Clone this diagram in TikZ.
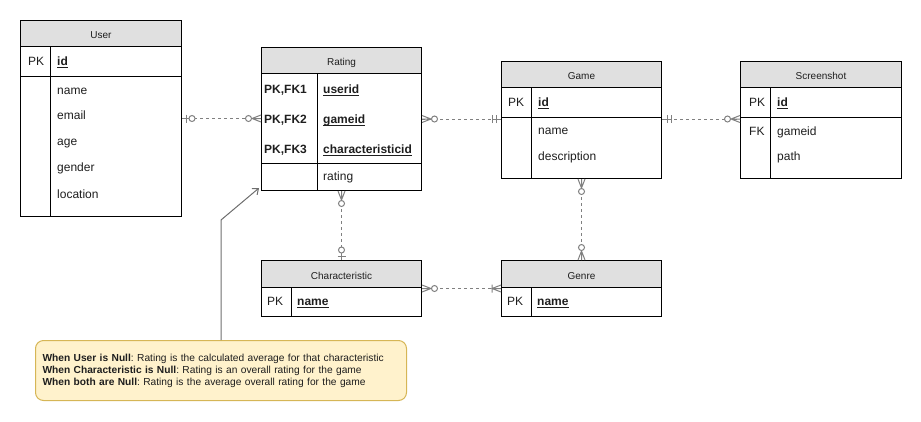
\documentclass[tikz,border=0pt]{standalone}
\usepackage{fontspec}
\setmainfont{Liberation Sans}
\usetikzlibrary{calc,arrows.meta}
\definecolor{hdr}{RGB}{224,224,224}
\definecolor{txt}{RGB}{30,30,30}
\definecolor{conn}{RGB}{128,128,128}
\definecolor{arrowgray}{RGB}{110,110,110}
\definecolor{notefill}{RGB}{255,242,204}
\definecolor{noteline}{RGB}{214,182,86}
\newcommand{\uln}[1]{\setbox0\hbox{#1}\rlap{\rule[-2pt]{\wd0}{0.8pt}}\box0}
\frenchspacing
\tikzset{
  tbl/.style={draw=black, line width=1pt, inner sep=0pt, anchor=north west},
  hdrbox/.style={draw=black, fill=hdr, line width=1pt, inner sep=0pt, anchor=north west,
    font=\fontsize{10}{12}\selectfont, text=txt, text height=10pt, text depth=0pt},
  cell/.style={anchor=west, inner sep=0pt, text height=8.6pt, text depth=0pt,
    font=\fontsize{12}{14}\selectfont, text=txt},
  kcell/.style={cell, font=\fontsize{12}{14}\selectfont\bfseries},
  sep/.style={draw=black, line width=1pt},
  conn/.style={draw=conn, line width=1pt, dash pattern=on 3pt off 3pt},
  mk/.style={draw=conn, line width=1pt, solid},
  zeromany/.pic={\draw[mk] (0,-3.5) -- (9,0) -- (0,3.5) (0,0) -- (9,0);
    \draw[mk, fill=white] (12.5,0) circle (3pt);},
  zeroone/.pic={\draw[mk] (4,-4) -- (4,4) (0,0) -- (7,0);
    \draw[mk, fill=white] (10,0) circle (3pt);},
  mandone/.pic={\draw[mk] (5,-4) -- (5,4) (9,-4) -- (9,4) (0,0) -- (9,0);},
  onemany/.pic={\draw[mk] (0,-3.5) -- (9,0) -- (0,3.5) (0,0) -- (9,0) (9,-4) -- (9,4);},
  notebox/.style={draw=noteline, fill=notefill, line width=1pt, rounded corners=8pt,
    anchor=north west, minimum width=371pt, minimum height=60pt, text width=357pt,
    inner xsep=7pt, inner ysep=0pt, align=left, font=\fontsize{10.2}{12}\selectfont, text=txt},
  notearrow/.style={draw=arrowgray, line width=1pt, -{Straight Barb[length=5pt,width=8pt]}},
}
\begin{document}
\begin{tikzpicture}[x=1pt,y=-1pt]
\useasboundingbox (0,0) rectangle (921,421);

% User
\node[tbl, minimum width=161pt, minimum height=196pt] (user) at (20,20) {};
\node[hdrbox, minimum width=161pt, minimum height=26pt] (userh) at (20,20) {User};
\draw[sep] (20,76) -- (181,76);
\draw[sep] (50,46) -- (50,216);
\node[cell] (userpk) at (28,61) {PK};
\node[kcell] (userid) at (57,61) {\uln{id}};
\node[cell] (username) at (57,90) {name};
\node[cell] (useremail) at (57,115) {email};
\node[cell] (userage) at (57,141) {age};
\node[cell] (usergender) at (57,167) {gender};
\node[cell] (userloc) at (57,194) {location};

% Rating
\node[tbl, minimum width=160pt, minimum height=143pt] (rating) at (261,47) {};
\node[hdrbox, minimum width=160pt, minimum height=26pt] (ratingh) at (261,47) {Rating};
\draw[sep] (261,163) -- (421,163);
\draw[sep] (317,73) -- (317,190);
\node[kcell] (rk1) at (264,89) {PK,FK1};
\node[kcell] (rv1) at (323,89) {\uln{userid}};
\node[kcell] (rk2) at (264,119) {PK,FK2};
\node[kcell] (rv2) at (323,119) {\uln{gameid}};
\node[kcell] (rk3) at (264,149) {PK,FK3};
\node[kcell] (rv3) at (323,149) {\uln{characteristicid}};
\node[cell] (rrating) at (323,176) {rating};

% Game
\node[tbl, minimum width=160pt, minimum height=117pt] (game) at (501,61) {};
\node[hdrbox, minimum width=160pt, minimum height=26pt] (gameh) at (501,61) {Game};
\draw[sep] (501,117) -- (661,117);
\draw[sep] (531,87) -- (531,178);
\node[cell] (gamepk) at (508,102) {PK};
\node[kcell] (gameid) at (538,102) {\uln{id}};
\node[cell] (gamename) at (538,130) {name};
\node[cell] (gamedesc) at (538,156) {description};

% Screenshot
\node[tbl, minimum width=161pt, minimum height=117pt] (shot) at (740,61) {};
\node[hdrbox, minimum width=161pt, minimum height=26pt] (shoth) at (740,61) {Screenshot};
\draw[sep] (740,117) -- (901,117);
\draw[sep] (770,87) -- (770,178);
\node[cell] (shotpk) at (749,102) {PK};
\node[kcell] (shotid) at (777,102) {\uln{id}};
\node[cell] (shotfk) at (749,131) {FK};
\node[cell] (shotgame) at (777,131) {gameid};
\node[cell] (shotpath) at (777,156) {path};

% Characteristic
\node[tbl, minimum width=160pt, minimum height=56pt] (chr) at (261,260) {};
\node[hdrbox, minimum width=160pt, minimum height=27pt] (chrh) at (261,260) {Characteristic};
\draw[sep] (291,287) -- (291,316);
\node[cell] (chrpk) at (267,301.5) {PK};
\node[kcell] (chrname) at (297,301.5) {\uln{name}};

% Genre
\node[tbl, minimum width=160pt, minimum height=56pt] (genre) at (501,260) {};
\node[hdrbox, minimum width=160pt, minimum height=27pt] (genreh) at (501,260) {Genre};
\draw[sep] (531,287) -- (531,316);
\node[cell] (genrepk) at (507,301.5) {PK};
\node[kcell] (genrename) at (537,301.5) {\uln{name}};

% Connectors
\draw[conn] (user.east) -- (user.east -| rating.west);
\pic at (user.east) {zeroone};
\pic[rotate=180] at (user.east -| rating.west) {zeromany};

\draw[conn] (rating.east) -- (rating.east -| game.west);
\pic at (rating.east) {zeromany};
\pic[rotate=180] at (rating.east -| game.west) {mandone};

\draw[conn] (game.east |- rating.east) -- (shot.west |- rating.east);
\pic at (game.east |- rating.east) {mandone};
\pic[rotate=180] at (shot.west |- rating.east) {zeromany};

\draw[conn] (rating.south) -- (rating.south |- chr.north);
\pic[rotate=-90] at (rating.south) {zeromany};
\pic[rotate=90] at (rating.south |- chr.north) {zeroone};

\draw[conn] (game.south) -- (game.south |- genre.north);
\pic[rotate=-90] at (game.south) {zeromany};
\pic[rotate=90] at (game.south |- genre.north) {zeromany};

\draw[conn] (chr.east) -- (chr.east -| genre.west);
\pic at (chr.east) {zeromany};
\pic[rotate=180] at (chr.east -| genre.west) {onemany};

% Note
\node[notebox] (note) at (35,340) {\textbf{When User is Null}: Rating is the calculated average for that characteristic\\
\textbf{When Characteristic is Null}: Rating is an overall rating for the game\\
\textbf{When both are Null}: Rating is the average overall rating for the game};
\coordinate (bend) at (221,220);
\draw[notearrow] (note.north -| bend) -- (bend) -- ([shift={(-2,-3)}]rating.south west);
\end{tikzpicture}
\end{document}
